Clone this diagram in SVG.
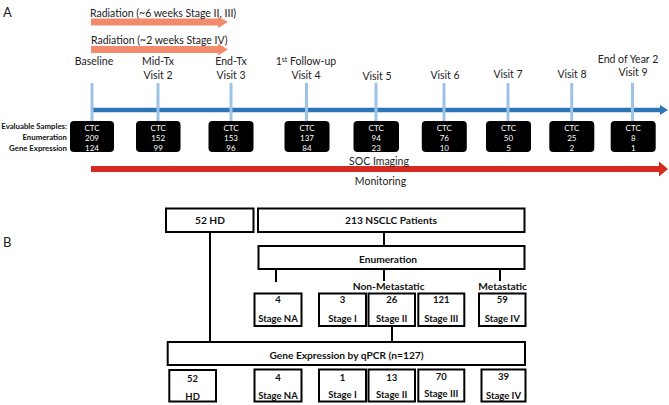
<svg xmlns="http://www.w3.org/2000/svg" width="669" height="405" viewBox="0 0 669 405">
<style>
text{font-family:Lato,"Open Sans","Liberation Sans",sans-serif;}
.panel{font-size:13px;fill:#222;}
.lbl{font-size:10.5px;fill:#222;text-anchor:middle;}
.side{font-size:7.8px;font-weight:bold;fill:#111;text-anchor:end;}
.ctc{fill:#000;}
.ct{font-size:8px;fill:#fff;text-anchor:middle;}
.tick{stroke:#9DC3E6;stroke-width:3;}
.bx{fill:#fff;stroke:#000;stroke-width:2;}
.bt{font-size:10.2px;font-weight:bold;fill:#111;text-anchor:middle;}
.st{font-size:9.5px;font-weight:bold;fill:#111;text-anchor:middle;}
.ln{stroke:#000;stroke-width:2;fill:none;}
</style>
<rect width="669" height="405" fill="#fff"/>
<text class="panel" x="3" y="17">A</text>
<text class="panel" x="3" y="247">B</text>

<g id="connectors">
  <!-- radiation arrows -->
  <path d="M91,18.5 H218 V16.5 L228,22 L218,28 V25.5 H91 Z" fill="#F28B6E"/>
  <path d="M91,46 H218 V43.5 L228,49.5 L218,55.5 V53 H91 Z" fill="#F28B6E"/>
  <!-- timeline -->
  <path d="M92,107.8 H660 V105 L668,110 L660,115 V112.2 H92 Z" fill="#2E75B6"/>
  <path d="M91,166 H659 V161.5 L668,169 L659,176.5 V172 H91 Z" fill="#D42A20"/>
  <!-- B lines -->
  <path class="ln" d="M210,232 V342"/>
  <path class="ln" d="M384,232 V246"/>
  <path class="ln" d="M276,269 V282"/>
  <path class="ln" d="M384,269 V281"/>
  <path class="ln" d="M500,269 V281"/>
  <path class="ln" d="M392,326 V342"/>
</g>

<g id="radiation-labels">
  <text class="lbl" x="90" y="17" text-anchor="start" style="text-anchor:start">Radiation (~6 weeks Stage II, III)</text>
  <text class="lbl" x="91" y="44" style="text-anchor:start">Radiation (~2 weeks Stage IV)</text>
</g>

<g id="side-labels">
  <text class="side" x="67" y="128.8">Evaluable Samples:</text>
  <text class="side" x="67" y="140.1">Enumeration</text>
  <text class="side" x="67" y="150.5">Gene Expression</text>
</g>

<g id="visit1">
  <text class="lbl" x="94" y="65">Baseline</text>
  <line class="tick" x1="92" y1="83" x2="92" y2="122"/>
  <rect class="ctc" x="70" y="121" width="44" height="31" rx="4"/>
  <text class="ct" x="92" y="130.6">CTC</text><text class="ct" x="92" y="140.6">209</text><text class="ct" x="92" y="150.6">124</text>
</g>
<g id="visit2">
  <text class="lbl" x="158" y="65">Mid-Tx</text><text class="lbl" x="158" y="79">Visit 2</text>
  <line class="tick" x1="158" y1="83" x2="158" y2="122"/>
  <rect class="ctc" x="136" y="121" width="44.5" height="31" rx="4"/>
  <text class="ct" x="158.2" y="130.6">CTC</text><text class="ct" x="158.2" y="140.6">152</text><text class="ct" x="158.2" y="150.6">99</text>
</g>
<g id="visit3">
  <text class="lbl" x="231" y="65">End-Tx</text><text class="lbl" x="231" y="79">Visit 3</text>
  <line class="tick" x1="231" y1="83" x2="231" y2="122"/>
  <rect class="ctc" x="208.5" y="121" width="45" height="31" rx="4"/>
  <text class="ct" x="231" y="130.6">CTC</text><text class="ct" x="231" y="140.6">153</text><text class="ct" x="231" y="150.6">96</text>
</g>
<g id="visit4">
  <text class="lbl" x="306" y="65">1<tspan font-size="7" dy="-3.5">st</tspan><tspan dy="3.5"> Follow-up</tspan></text><text class="lbl" x="306" y="79">Visit 4</text>
  <line class="tick" x1="306.5" y1="83" x2="306.5" y2="122"/>
  <rect class="ctc" x="284.5" y="121" width="45" height="31" rx="4"/>
  <text class="ct" x="307" y="130.6">CTC</text><text class="ct" x="307" y="140.6">137</text><text class="ct" x="307" y="150.6">84</text>
</g>
<g id="visit5">
  <text class="lbl" x="377" y="80">Visit 5</text>
  <line class="tick" x1="376" y1="83" x2="376" y2="122"/>
  <rect class="ctc" x="353.5" y="121" width="45.5" height="31" rx="4"/>
  <text class="ct" x="376.2" y="130.6">CTC</text><text class="ct" x="376.2" y="140.6">94</text><text class="ct" x="376.2" y="150.6">23</text>
</g>
<g id="visit6">
  <text class="lbl" x="445" y="79">Visit 6</text>
  <line class="tick" x1="444" y1="83" x2="444" y2="122"/>
  <rect class="ctc" x="421.8" y="121" width="45" height="31" rx="4"/>
  <text class="ct" x="444.3" y="130.6">CTC</text><text class="ct" x="444.3" y="140.6">76</text><text class="ct" x="444.3" y="150.6">10</text>
</g>
<g id="visit7">
  <text class="lbl" x="508" y="78">Visit 7</text>
  <line class="tick" x1="508" y1="83" x2="508" y2="122"/>
  <rect class="ctc" x="486" y="121" width="45" height="31" rx="4"/>
  <text class="ct" x="508.5" y="130.6">CTC</text><text class="ct" x="508.5" y="140.6">50</text><text class="ct" x="508.5" y="150.6">5</text>
</g>
<g id="visit8">
  <text class="lbl" x="572" y="78">Visit 8</text>
  <line class="tick" x1="571.7" y1="83" x2="571.7" y2="122"/>
  <rect class="ctc" x="549.3" y="121" width="45" height="31" rx="4"/>
  <text class="ct" x="571.8" y="130.6">CTC</text><text class="ct" x="571.8" y="140.6">25</text><text class="ct" x="571.8" y="150.6">2</text>
</g>
<g id="visit9">
  <text class="lbl" x="628" y="63">End of Year 2</text><text class="lbl" x="633" y="75.5">Visit 9</text>
  <line class="tick" x1="632.5" y1="83" x2="632.5" y2="122"/>
  <rect class="ctc" x="610.7" y="121" width="45" height="31" rx="4"/>
  <text class="ct" x="633.2" y="130.6">CTC</text><text class="ct" x="633.2" y="140.6">8</text><text class="ct" x="633.2" y="150.6">1</text>
</g>
<g id="soc-labels">
  <text class="lbl" x="379" y="165.3">SOC Imaging</text>
  <text class="lbl" x="380.5" y="184.8">Monitoring</text>
</g>

<!-- Panel B -->
<g id="hd"><rect class="bx" x="166" y="208.5" width="87.5" height="23.5"/><text class="bt" x="210" y="224.3">52 HD</text></g>
<g id="nsclc"><rect class="bx" x="258" y="208.5" width="266.5" height="23.5"/><text class="bt" x="391" y="224.3">213 NSCLC Patients</text></g>
<g id="enumeration"><rect class="bx" x="258.5" y="246" width="266" height="23"/><text class="bt" x="388" y="263" font-size="10.6">Enumeration</text></g>
<g id="nonmet-label"><text class="bt" x="388.7" y="290.4">Non-Metastatic</text></g>
<g id="met-label"><text class="bt" x="502.7" y="290.4">Metastatic</text></g>

<g id="e-na"><rect class="bx" x="254.5" y="293.5" width="47" height="32.5"/><text class="st" x="278" y="302.6">4</text><text class="st" x="278" y="322.4">Stage NA</text></g>
<g id="e-s1"><rect class="bx" x="319" y="293.5" width="47" height="32.5"/><text class="st" x="342.5" y="302.6">3</text><text class="st" x="342.5" y="322.4">Stage I</text></g>
<g id="e-s2"><rect class="bx" x="368.5" y="293.5" width="46.5" height="32.5"/><text class="st" x="391.7" y="302.6">26</text><text class="st" x="391.7" y="322.4">Stage II</text></g>
<g id="e-s3"><rect class="bx" x="418.3" y="293.5" width="46" height="32.5"/><text class="st" x="441.3" y="302.6">121</text><text class="st" x="441.3" y="322.4">Stage III</text></g>
<g id="e-s4"><rect class="bx" x="479" y="293.5" width="46.5" height="32.5"/><text class="st" x="502.2" y="302.6">59</text><text class="st" x="502.2" y="322.4">Stage IV</text></g>

<g id="gene-expression"><rect class="bx" x="167.7" y="342" width="357.3" height="23"/><text class="bt" x="346.5" y="358.6">Gene Expression by qPCR (n=127)</text></g>

<g id="g-hd"><rect class="bx" x="169.3" y="370" width="46.7" height="31.5"/><text class="st" x="192.6" y="382.4">52</text><text class="st" x="192.6" y="400">HD</text></g>
<g id="g-na"><rect class="bx" x="254.5" y="369.5" width="47" height="32"/><text class="st" x="278" y="380.6">4</text><text class="st" x="278" y="399">Stage NA</text></g>
<g id="g-s1"><rect class="bx" x="319" y="369.5" width="47" height="32"/><text class="st" x="342.5" y="380.6">1</text><text class="st" x="342.5" y="398">Stage I</text></g>
<g id="g-s2"><rect class="bx" x="368.5" y="369.5" width="46.5" height="32"/><text class="st" x="391.7" y="380.6">13</text><text class="st" x="391.7" y="398">Stage II</text></g>
<g id="g-s3"><rect class="bx" x="418.3" y="369.5" width="46" height="32"/><text class="st" x="441.3" y="379.6">70</text><text class="st" x="441.3" y="397">Stage III</text></g>
<g id="g-s4"><rect class="bx" x="481.5" y="369.5" width="44" height="32"/><text class="st" x="503.5" y="379.6">39</text><text class="st" x="503.5" y="398.5">Stage IV</text></g>
</svg>
